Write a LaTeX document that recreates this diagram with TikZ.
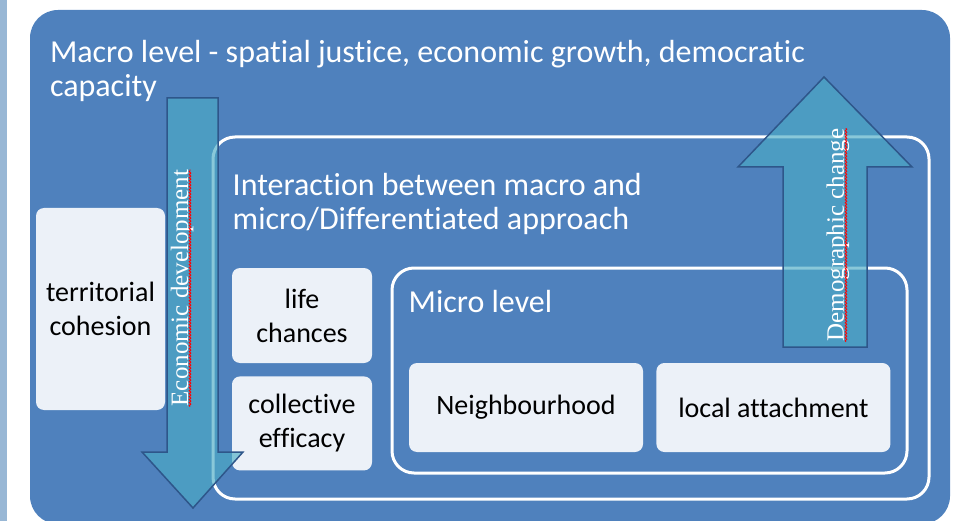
\documentclass[tikz,border=0pt]{standalone}
\usepackage{fontspec}
\setmainfont{Carlito}[Ligatures={NoCommon,NoRequired,NoContextual}]
\newfontfamily\arrowfont{Liberation Serif}
\usetikzlibrary{positioning,calc,decorations.pathmorphing}
\definecolor{macroblue}{RGB}{79,129,189}
\definecolor{boxfill}{RGB}{236,241,248}
\definecolor{arrowfill}{RGB}{75,172,198}
\definecolor{arrowline}{RGB}{46,86,138}
\definecolor{sidestrip}{RGB}{152,183,213}

\begin{document}
\begin{tikzpicture}[x=1pt, y=-1pt, node distance=13pt,
	level box/.style={rectangle, rounded corners=28pt, fill=macroblue},
	frame box/.style={rectangle, rounded corners=22pt, draw=white, line width=3pt},
	item box/.style={rectangle, rounded corners=8pt, fill=boxfill, align=center, font=\fontsize{28}{34}\selectfont},
	head text/.style={text=white, align=left, inner sep=0pt, font=\fontsize{32}{34}\selectfont},
	arrow text/.style={text=white, inner sep=0pt, rotate=90, font=\arrowfont\fontsize{25}{30}\selectfont},
	block arrow/.style={fill=arrowfill, fill opacity=0.65, draw=arrowline, line width=1.5pt},
	spell mark/.style={red, line width=0.9pt, decorate, decoration={snake, amplitude=0.8pt, segment length=3pt}}]
	\useasboundingbox (0,0) rectangle (955,521);
	\clip (0,0) rectangle (955,521);
	\fill[sidestrip] (0,0) rectangle (7,521);

	% levels
	\node[level box, minimum width=920pt, minimum height=514pt] (macro) at (490,267) {};
	\node[head text] (macrotext) [below right=30pt and 20pt of macro.north west] {Macro level - spatial justice, economic growth, democratic\\capacity};
	\node[item box, minimum width=129pt, minimum height=202pt] (territorial) at (100.5,309) {territorial\\cohesion};

	\node[frame box, minimum width=716pt, minimum height=362pt] (interaction) at (571,318) {};
	\node[head text] (interactiontext) [below right=38pt and 21pt of interaction.north west] {Interaction between macro and\\micro/Differentiated approach};
	\node[item box, minimum width=140pt, minimum height=95pt] (life) at (302,315.5) {life\\chances};
	\node[item box, minimum width=140pt, minimum height=94pt] (collective) [below=of life] {collective\\efficacy};

	\node[frame box, minimum width=515pt, minimum height=205pt] (micro) at (649.5,370.5) {};
	\node[head text] (microtext) [below right=46pt and 18pt of micro.north west, anchor=base west] {Micro level};
	\node[item box, minimum width=234pt, minimum height=89pt] (neighbourhood) at (526,407.5) {Neighbourhood};
	\node[item box, minimum width=234pt, minimum height=89pt] (attachment) [right=of neighbourhood] {local attachment};

	% arrows
	\draw[block arrow] (167,98) -- (218,98) -- (218,452) -- (243,452) -- (193,508) -- (142,452) -- (167,452) -- cycle;
	\draw[block arrow] (783,347) -- (783,167) -- (738,167) -- (824,77) -- (912,167) -- (867,167) -- (867,347) -- cycle;
	\node[arrow text] (economic) at (182,288) {Economic development};
	\node[arrow text] (demographic) at (838,235) {Demographic change};
	\draw[spell mark] ($(economic.base west)+(2,0)$) -- ($(economic.base east)+(2,0)$);
	\draw[spell mark] ($(demographic.base west)+(2,0)$) -- ($(demographic.base east)+(2,0)$);
\end{tikzpicture}
\end{document}
